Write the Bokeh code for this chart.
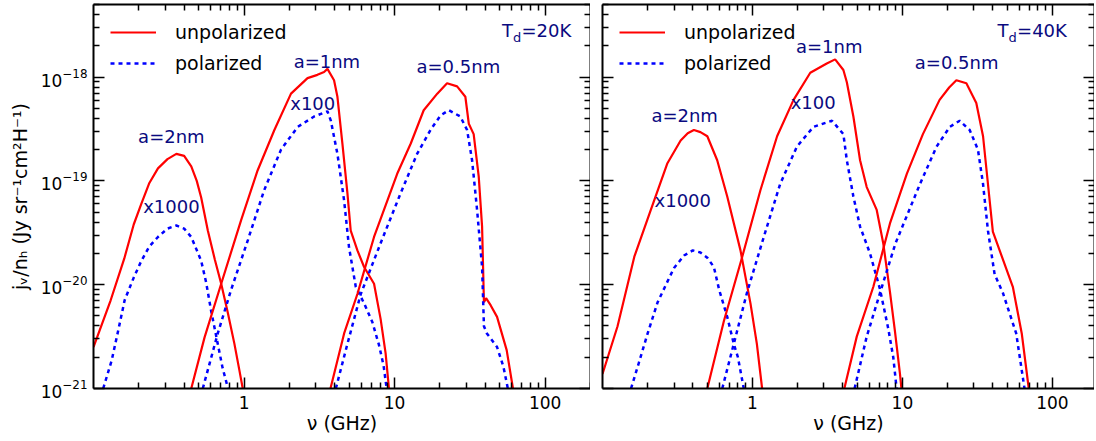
from bokeh.plotting import figure
from bokeh.layouts import row
from bokeh.models import (Range1d, LogAxis, FixedTicker, BasicTickFormatter,
                          LogTickFormatter, CustomJSTickFormatter, Label, Legend,
                          LegendItem)
from bokeh.embed import file_html
from bokeh.resources import INLINE

FONT = "DejaVu Sans"
RED = "#ff0000"
BLUE = "#0000ff"
NAVY = "#0a0a80"

# ---------------------------------------------------------------------------
# Spinning-dust emissivity j_nu/n_H (Jy sr^-1 cm^2 H^-1) vs frequency (GHz)
# ---------------------------------------------------------------------------

# ---- T_d = 20 K ----
nu_20_a2_u = [0.1, 0.13, 0.16, 0.185, 0.208, 0.235, 0.268, 0.31, 0.355, 0.40,
              0.446, 0.485, 0.519, 0.575, 0.64, 0.705, 0.78, 0.863, 0.93, 0.98, 1.0]
j_20_a2_u = [2.51e-21, 7.08e-21, 1.78e-20, 3.80e-20, 6.03e-20, 9.55e-20, 1.32e-19,
             1.62e-19, 1.82e-19, 1.74e-19, 1.38e-19, 1.00e-19, 6.92e-20, 3.31e-20,
             1.74e-20, 1.02e-20, 5.37e-21, 2.69e-21, 1.51e-21, 1.0e-21, 7.9e-22]

nu_20_a2_p = [0.116, 0.132, 0.147, 0.161, 0.185, 0.208, 0.235, 0.268, 0.31, 0.355,
              0.40, 0.446, 0.519, 0.56, 0.604, 0.669, 0.72, 0.78, 0.80]
j_20_a2_p = [1.0e-21, 1.86e-21, 3.80e-21, 7.08e-21, 1.17e-20, 1.70e-20, 2.34e-20,
             2.88e-20, 3.47e-20, 3.72e-20, 3.47e-20, 2.88e-20, 1.70e-20, 1.05e-20,
             5.62e-21, 2.69e-21, 1.58e-21, 1.02e-21, 7.9e-22]

nu_20_a1_u = [0.446, 0.546, 0.705, 0.955, 1.23, 1.59, 2.05, 2.64, 3.07, 3.40, 3.58,
              3.96, 4.17, 4.50, 4.86, 5.11, 5.66, 6.27, 7.30, 8.07, 8.71, 9.17, 9.3]
j_20_a1_u = [1.0e-21, 3.09e-21, 1.02e-20, 4.17e-20, 1.26e-19, 3.09e-19, 6.92e-19,
             9.77e-19, 1.05e-18, 1.12e-18, 1.20e-18, 9.33e-19, 6.46e-19, 2.29e-19,
             7.59e-20, 3.31e-20, 2.14e-20, 1.48e-20, 1.02e-20, 4.68e-21, 2.19e-21,
             1.0e-21, 7.9e-22]

nu_20_a1_p = [0.532, 0.669, 0.82, 1.06, 1.36, 1.76, 2.27, 2.92, 3.58, 3.77, 4.17,
              4.62, 4.98, 5.52, 6.27, 7.11, 7.87, 8.45, 8.85, 9.0]
j_20_a1_p = [1.0e-21, 3.39e-21, 8.91e-21, 2.69e-20, 8.13e-20, 2.00e-19, 3.31e-19,
             4.17e-19, 4.68e-19, 3.80e-19, 1.82e-19, 6.46e-20, 2.29e-20, 9.55e-21,
             6.61e-21, 4.37e-21, 2.63e-21, 1.66e-21, 1.0e-21, 7.9e-22]

nu_20_a05_u = [3.75, 4.62, 5.66, 7.30, 10.4, 12.8, 15.6, 19.2, 22.3, 26.0, 29.5,
               31.1, 33.5, 36.2, 38.1, 39.2, 40.5, 43.5, 47.9, 55.5, 61.1, 62.5]
j_20_a05_u = [1.0e-21, 3.39e-21, 8.13e-21, 2.88e-20, 1.17e-19, 2.29e-19, 4.79e-19,
              6.92e-19, 8.71e-19, 8.13e-19, 6.46e-19, 3.55e-19, 2.82e-19, 1.10e-19,
              3.63e-20, 6.76e-21, 7.41e-21, 6.31e-21, 4.90e-21, 2.34e-21, 1.0e-21,
              7.9e-22]

nu_20_a05_p = [4.07, 4.86, 5.96, 8.07, 10.96, 14.1, 17.3, 20.2, 22.9, 27.3, 30.3,
               32.7, 35.3, 38.1, 39.2, 41.0, 47.9, 52.8, 56.5, 58.0]
j_20_a05_p = [1.0e-21, 2.69e-21, 8.13e-21, 2.51e-20, 7.59e-20, 1.82e-19, 3.09e-19,
              4.27e-19, 4.79e-19, 4.17e-19, 3.09e-19, 1.58e-19, 5.25e-20, 1.48e-20,
              3.98e-21, 3.39e-21, 2.51e-21, 1.62e-21, 1.0e-21, 7.9e-22]

# ---- T_d = 40 K ----
nu_40_a2_u = [0.1, 0.126, 0.163, 0.210, 0.271, 0.332, 0.37, 0.407, 0.45, 0.50,
              0.582, 0.679, 0.832, 0.97, 1.07, 1.16, 1.18]
j_40_a2_u = [1.38e-21, 3.98e-21, 1.86e-20, 5.25e-20, 1.48e-19, 2.45e-19, 2.88e-19,
             3.09e-19, 2.95e-19, 2.69e-19, 1.58e-19, 7.08e-20, 2.14e-20, 6.61e-21,
             2.69e-21, 1.0e-21, 7.9e-22]

nu_40_a2_p = [0.155, 0.175, 0.200, 0.233, 0.271, 0.30, 0.35, 0.40, 0.45, 0.50,
              0.553, 0.60, 0.679, 0.751, 0.80, 0.875, 0.89]
j_40_a2_p = [1.0e-21, 1.78e-21, 3.39e-21, 6.76e-21, 1.07e-20, 1.45e-20, 1.91e-20,
             2.14e-20, 2.04e-20, 1.82e-20, 1.48e-20, 8.91e-21, 4.90e-21, 2.69e-21,
             2.00e-21, 1.0e-21, 7.9e-22]

nu_40_a1_u = [0.50, 0.645, 0.855, 1.13, 1.46, 1.88, 2.43, 3.13, 3.56, 4.04, 4.26,
              4.71, 5.22, 5.78, 6.74, 7.45, 8.26, 8.92, 9.62, 9.85, 10.0]
j_40_a1_u = [1.0e-21, 4.47e-21, 1.86e-20, 8.13e-20, 2.69e-19, 6.03e-19, 1.10e-18,
             1.35e-18, 1.48e-18, 1.17e-18, 8.91e-19, 4.17e-19, 1.58e-19, 8.71e-20,
             5.25e-20, 2.51e-20, 8.51e-21, 3.55e-21, 1.41e-21, 1.0e-21, 7.9e-22]

nu_40_a1_p = [0.629, 0.751, 0.922, 1.19, 1.53, 1.98, 2.55, 3.39, 4.04, 4.26, 4.71,
              5.22, 6.08, 7.08, 8.04, 8.69, 9.15, 9.3]
j_40_a1_p = [1.0e-21, 2.69e-21, 8.51e-21, 2.88e-20, 9.33e-20, 2.14e-19, 3.31e-19,
             3.80e-19, 2.82e-19, 1.58e-19, 7.08e-20, 3.63e-20, 2.00e-20, 9.12e-21,
             3.80e-21, 2.00e-21, 1.0e-21, 7.9e-22]

nu_40_a05_u = [4.1, 4.96, 6.40, 8.26, 10.7, 13.7, 17.7, 20.5, 22.9, 26.7, 31.1,
               34.5, 37.2, 40.1, 44.5, 54.5, 62.5, 69.6, 71.0]
j_40_a05_u = [1.0e-21, 3.16e-21, 9.55e-21, 3.89e-20, 1.17e-19, 2.82e-19, 6.03e-19,
              7.94e-19, 9.33e-19, 8.71e-19, 5.62e-19, 2.69e-19, 9.33e-20, 3.24e-20,
              2.14e-20, 9.55e-21, 3.39e-21, 1.0e-21, 7.9e-22]

nu_40_a05_p = [4.8, 5.78, 7.3, 9.0, 13.1, 16.9, 20.7, 24.1, 28.1, 31.9, 34.5, 37.2,
               41.2, 46.8, 57.4, 65.2, 66.5]
j_40_a05_p = [1.0e-21, 3.16e-21, 9.55e-21, 2.51e-20, 9.33e-20, 2.14e-19, 3.31e-19,
              3.80e-19, 3.09e-19, 2.00e-19, 9.33e-20, 3.31e-20, 1.26e-20, 8.32e-21,
              3.39e-21, 1.0e-21, 7.9e-22]

# ---- annotations: (text, frequency, emissivity) ----
notes_20 = [("a=2nm", 0.329, 2.69e-19), ("x1000", 0.329, 5.69e-20),
            ("a=1nm", 3.55, 1.42e-18), ("x100", 2.86, 5.60e-19),
            ("a=0.5nm", 26.5, 1.27e-18)]
notes_40 = [("a=2nm", 0.353, 4.30e-19), ("x1000", 0.343, 6.50e-20),
            ("a=1nm", 3.25, 1.99e-18), ("x100", 2.54, 5.73e-19),
            ("a=0.5nm", 23.0, 1.38e-18)]
temp_labels = [("=20K", 51.7, 2.83e-18), ("=40K", 43.1, 2.83e-18)]

# ---- axes ----
x_major = [1, 10, 100]
x_minor = [m * d for d in (0.1, 1, 10) for m in range(2, 10)] + [200]
y_major = [1e-21, 1e-20, 1e-19, 1e-18]
y_minor = [m * d for d in (1e-21, 1e-20, 1e-19, 1e-18) for m in range(2, 10)]

legend_labels = ["unpolarized", "polarized"]


def style_axis(ax, labels_on):
    ax.axis_line_width = 2
    ax.axis_line_color = "black"
    ax.major_tick_in = 11
    ax.major_tick_out = 0
    ax.minor_tick_in = 6
    ax.minor_tick_out = 0
    ax.major_tick_line_width = 1.5
    ax.minor_tick_line_width = 1.5
    ax.major_tick_line_color = "black"
    ax.minor_tick_line_color = "black"
    ax.major_label_text_font = FONT
    ax.major_label_text_color = "black"
    ax.major_label_text_font_size = "17px"
    if not labels_on:
        # tick marks only, no tick text on the mirrored sides
        ax.formatter = CustomJSTickFormatter(code="return ''")
        ax.major_label_text_font_size = "1px"
        ax.major_label_standoff = 0
    ax.axis_label_text_font = FONT
    ax.axis_label_text_font_style = "normal"
    ax.axis_label_text_font_size = "19px"
    ax.axis_label_text_color = "black"


def make_panel(x_end, frame_w, border_left, y_labels, curves, notes, temp):
    p = figure(x_axis_type="log", y_axis_type="log",
               x_range=Range1d(0.1, x_end), y_range=Range1d(1e-21, 5e-18),
               frame_width=frame_w, frame_height=384,
               min_border_left=border_left, min_border_right=0,
               min_border_top=4, min_border_bottom=53,
               output_backend="svg", toolbar_location=None)
    p.grid.visible = False
    p.outline_line_color = None
    p.background_fill_color = "white"
    p.border_fill_color = "white"

    xb = p.xaxis[0]
    yl = p.yaxis[0]
    xt = LogAxis()
    yr = LogAxis()
    p.add_layout(xt, "above")
    p.add_layout(yr, "right")
    for ax in (xb, xt):
        ax.ticker = FixedTicker(ticks=x_major, minor_ticks=x_minor)
        ax.formatter = BasicTickFormatter()
    for ax in (yl, yr):
        ax.ticker = FixedTicker(ticks=y_major, minor_ticks=y_minor)
        ax.formatter = LogTickFormatter()
    style_axis(xb, True)
    style_axis(xt, False)
    style_axis(yr, False)
    style_axis(yl, y_labels)

    xb.axis_label = "ν (GHz)"
    xb.major_label_standoff = 7
    xb.axis_label_standoff = 0
    if y_labels:
        yl.axis_label = "jᵥ/nₕ (Jy sr⁻¹cm²H⁻¹)"
        yl.major_label_standoff = 6
        yl.axis_label_standoff = 7

    unpol_r = pol_r = None
    for nu, j, kind in curves:
        if kind == "unpol":
            r = p.line(nu, j, line_color=RED, line_width=2.2)
            unpol_r = unpol_r or r
        else:
            r = p.line(nu, j, line_color=BLUE, line_width=2.5, line_dash="4 4")
            pol_r = pol_r or r

    for text, nu, j in notes:
        p.add_layout(Label(x=nu, y=j, text=text, text_align="center",
                           text_baseline="middle", text_font=FONT,
                           text_font_size="18px", text_color=NAVY))

    rest, nu_t, j_t = temp
    p.add_layout(Label(x=nu_t, y=j_t, text="T", text_align="left",
                       text_baseline="middle", text_font=FONT,
                       text_font_size="18px", text_color=NAVY))
    p.add_layout(Label(x=nu_t, y=j_t, x_offset=11, y_offset=-7, text="d",
                       text_align="left", text_baseline="middle", text_font=FONT,
                       text_font_size="13px", text_color=NAVY))
    p.add_layout(Label(x=nu_t, y=j_t, x_offset=19.5, text=rest, text_align="left",
                       text_baseline="middle", text_font=FONT,
                       text_font_size="18px", text_color=NAVY))

    legend = Legend(items=[LegendItem(label=legend_labels[0], renderers=[unpol_r]),
                           LegendItem(label=legend_labels[1], renderers=[pol_r])],
                    location="top_left", orientation="vertical",
                    glyph_width=46, glyph_height=22, label_height=22,
                    label_standoff=19, spacing=9, padding=0, margin=17,
                    label_text_font=FONT, label_text_font_size="19px",
                    label_text_color="black",
                    background_fill_alpha=0, border_line_alpha=0)
    p.add_layout(legend)
    return p


curves_20 = [(nu_20_a2_u, j_20_a2_u, "unpol"), (nu_20_a2_p, j_20_a2_p, "pol"),
             (nu_20_a1_u, j_20_a1_u, "unpol"), (nu_20_a1_p, j_20_a1_p, "pol"),
             (nu_20_a05_u, j_20_a05_u, "unpol"), (nu_20_a05_p, j_20_a05_p, "pol")]
curves_40 = [(nu_40_a2_u, j_40_a2_u, "unpol"), (nu_40_a2_p, j_40_a2_p, "pol"),
             (nu_40_a1_u, j_40_a1_u, "unpol"), (nu_40_a1_p, j_40_a1_p, "pol"),
             (nu_40_a05_u, j_40_a05_u, "unpol"), (nu_40_a05_p, j_40_a05_p, "pol")]

p20 = make_panel(200, 497, 93, True, curves_20, notes_20, temp_labels[0])
p40 = make_panel(191, 492, 12, False, curves_40, notes_40, temp_labels[1])

layout = row(p20, p40)

with open("out.html", "w") as f:
    f.write(file_html(layout, INLINE))
